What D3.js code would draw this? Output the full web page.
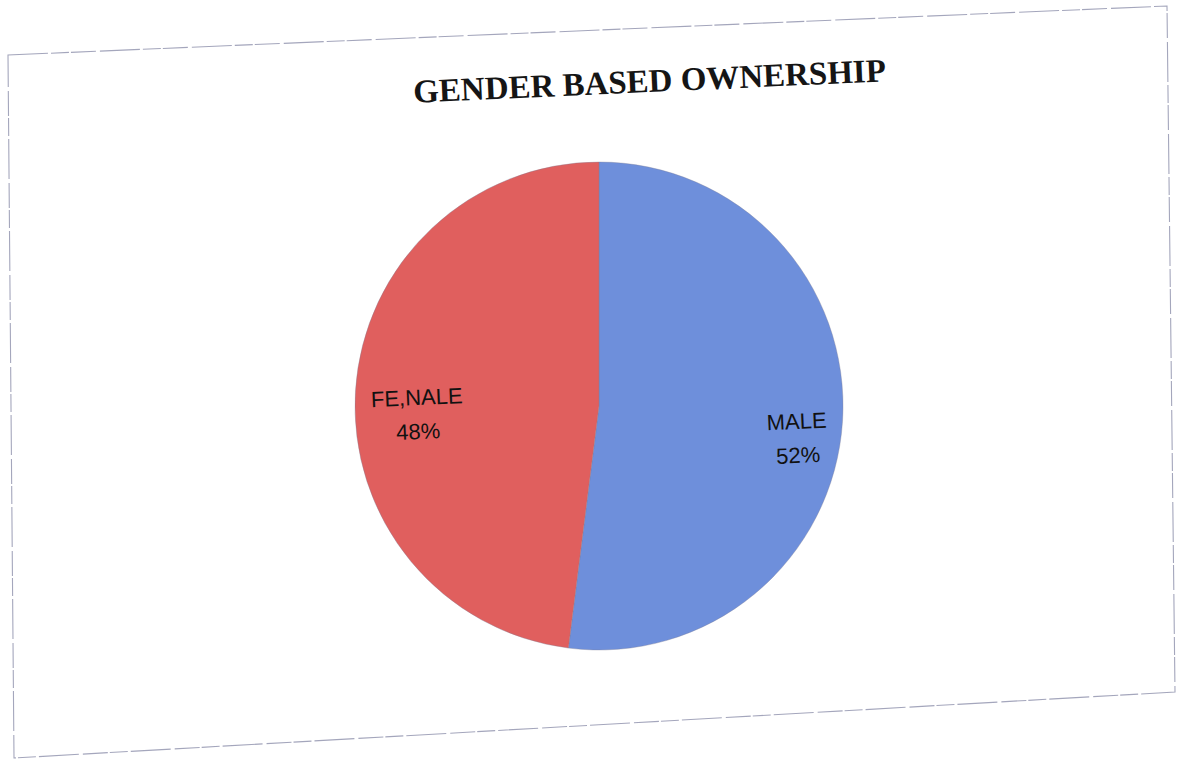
<!DOCTYPE html>
<html>
<head>
<meta charset="utf-8">
<script src="https://cdn.jsdelivr.net/npm/d3@7"></script>
<style>
  html, body { margin: 0; padding: 0; background: #ffffff; }
  svg { display: block; }
</style>
</head>
<body>
<svg id="chart" width="1178" height="765"></svg>
<script>
// Chart data
const title = "GENDER BASED OWNERSHIP";
const categories = ["MALE", "FE,NALE"];
const shares = [52, 48];
const sliceColors = ["#6e8fdb", "#e05f5e"];

const svg = d3.select("#chart");

// Page tilt of the printed sheet
const tilt = -2.6;

// Frame around the chart area (slightly skewed sheet)
const frame = [[8, 55], [1167, 6], [1175, 692], [14, 758]];
svg.append("path")
  .attr("d", d3.line()(frame) + "Z")
  .attr("fill", "none")
  .attr("stroke", "#a4a6bc")
  .attr("stroke-width", 1.1)
  .attr("stroke-dasharray", "40 3 18 2 25 4");

// Title
svg.append("text")
  .attr("x", 650)
  .attr("y", 92)
  .attr("transform", `rotate(${tilt},650,92)`)
  .attr("text-anchor", "middle")
  .attr("font-family", "'Liberation Serif', 'Times New Roman', serif")
  .attr("font-weight", "bold")
  .attr("font-size", 33)
  .attr("fill", "#151515")
  .text(title);

// Pie
const cx = 599, cy = 406, r = 244;
const g = svg.append("g").attr("transform", `translate(${cx},${cy})`);

const pie = d3.pie().sort(null).value(d => d.value);
const arcs = pie(categories.map((c, i) => ({ name: c, value: shares[i], color: sliceColors[i] })));
const arc = d3.arc().innerRadius(0).outerRadius(r);

g.selectAll("path.slice")
  .data(arcs)
  .join("path")
  .attr("class", "slice")
  .attr("d", arc)
  .attr("fill", d => d.data.color)
  .attr("stroke", "#7d7f95")
  .attr("stroke-width", 0.6)
  .attr("stroke-opacity", 0.6);

// Data labels (category + percentage)
const labelArc = d3.arc().innerRadius(r * 0.78).outerRadius(r * 0.78);
const labels = g.selectAll("g.label")
  .data(arcs)
  .join("g")
  .attr("class", "label")
  .attr("transform", d => {
    const [x, y] = labelArc.centroid(d);
    return `translate(${x + 8},${y + 11}) rotate(${tilt})`;
  });

labels.append("text")
  .attr("text-anchor", "middle")
  .attr("y", 0)
  .attr("font-family", "'Liberation Sans', Arial, sans-serif")
  .attr("font-size", 22)
  .attr("fill", "#111")
  .text(d => d.data.name);

labels.append("text")
  .attr("text-anchor", "middle")
  .attr("y", 34)
  .attr("font-family", "'Liberation Sans', Arial, sans-serif")
  .attr("font-size", 22)
  .attr("fill", "#111")
  .text(d => d.data.value + "%");
</script>
</body>
</html>
